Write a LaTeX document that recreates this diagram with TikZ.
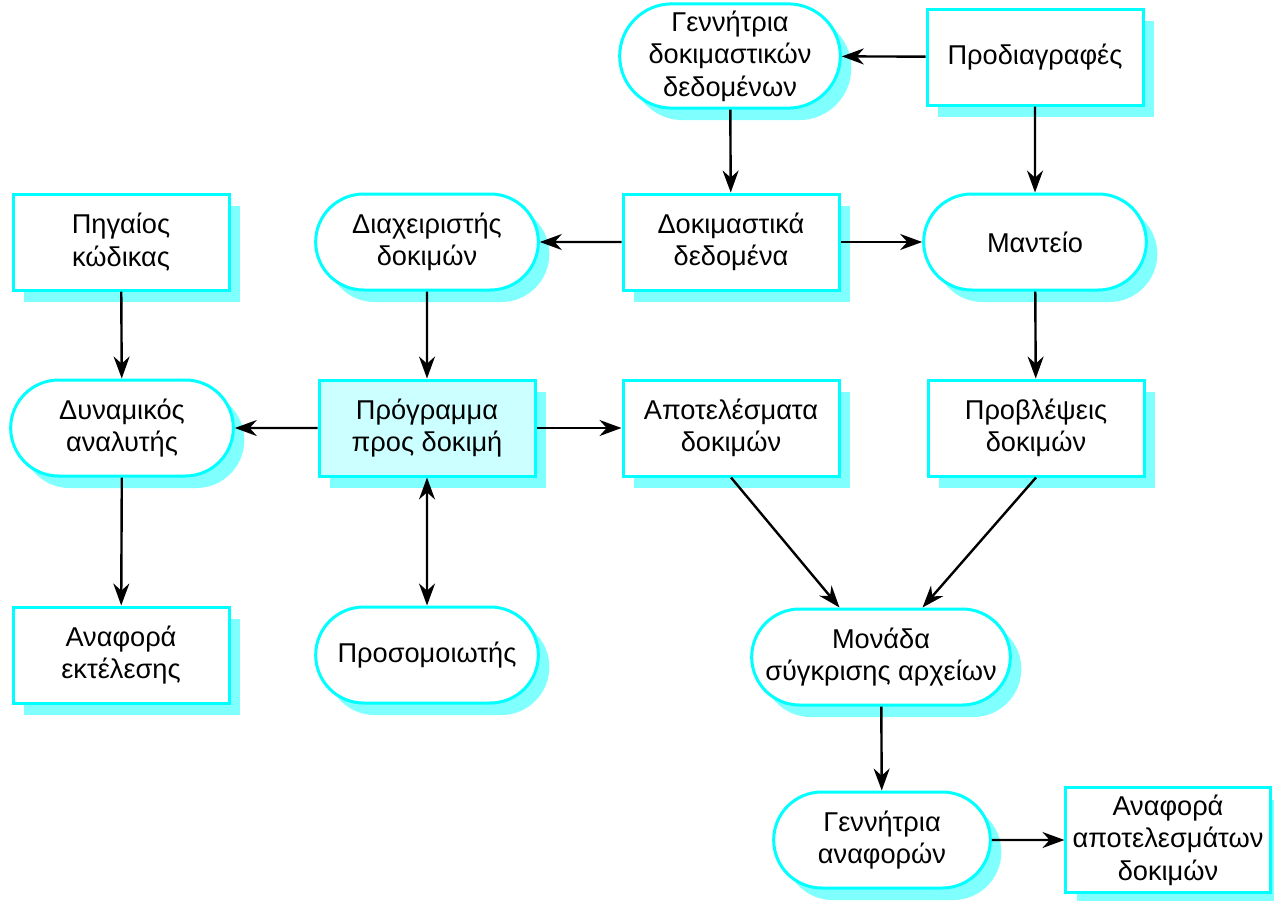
\documentclass[tikz,border=0pt]{standalone}
\usepackage{fontspec}
\setmainfont{Liberation Sans}
\usepackage{tikz}
\usetikzlibrary{shapes,shadows,arrows.meta}
\definecolor{edgecyan}{RGB}{0,255,255}
\definecolor{shadecyan}{RGB}{128,255,255}
\definecolor{fillcyan}{RGB}{204,255,255}
\tikzset{box/.style={rectangle,draw=edgecyan,fill=white,line width=1.5pt,minimum width=108pt,minimum height=48pt,align=center,font=\fontsize{13.6pt}{16.3pt}\selectfont,drop shadow={shadow xshift=5.5pt,shadow yshift=-6pt,fill=shadecyan,opacity=1}},
         pill/.style={rounded rectangle,draw=edgecyan,fill=white,line width=1.5pt,minimum width=118pt,minimum height=48pt,align=center,font=\fontsize{13.6pt}{16.3pt}\selectfont,drop shadow={shadow xshift=5.5pt,shadow yshift=-6pt,fill=shadecyan,opacity=1}}}

\begin{document}
\begin{tikzpicture}[x=0.5pt,y=-0.5pt,>={Stealth[length=11pt,width=8pt]},line width=1.2pt]
    \useasboundingbox (0,0) rectangle (1274,900);
    \node[pill,minimum width=117pt] (gen) at (730,56) {Γεννήτρια\\δοκιμαστικών\\δεδομένων};
    \node[box] (spec) at (1035,57) {Προδιαγραφές};
    \node[box] (src) at (121,242) {Πηγαίος\\κώδικας};
    \node[pill] (mgr) at (427,242) {Διαχειριστής\\δοκιμών};
    \node[box] (data) at (731,242) {Δοκιμαστικά\\δεδομένα};
    \node[pill] (orc) at (1035,242) {Μαντείο};
    \node[pill] (dyn) at (122,428) {Δυναμικός\\αναλυτής};
    \node[box,fill=fillcyan] (prog) at (427,428) {Πρόγραμμα\\προς δοκιμή};
    \node[box] (res) at (731,428) {Αποτελέσματα\\δοκιμών};
    \node[box] (pred) at (1036,428) {Προβλέψεις\\δοκιμών};
    \node[box] (exe) at (121,655) {Αναφορά\\εκτέλεσης};
    \node[pill] (sim) at (427,655) {Προσομοιωτής};
    \node[pill,minimum width=136pt] (cmp) at (881,657) {Μονάδα\\σύγκρισης αρχείων};
    \node[pill,minimum width=115pt] (rep) at (882,840) {Γεννήτρια\\αναφορών};
    \node[box,minimum width=100pt] (out) at (1168,840) {Αναφορά\\αποτελεσμάτων\\δοκιμών};

    \draw [->] (spec) to (gen);
    \draw [->] (gen) to (data);
    \draw [->] (spec) to (orc);
    \draw [->] (data) to (mgr);
    \draw [->] (data) to (orc);
    \draw [->] (src) to (dyn);
    \draw [->] (mgr) to (prog);
    \draw [->] (prog) to (dyn);
    \draw [->] (prog) to (res);
    \draw [->] (orc) to (pred);
    \draw [->] (dyn) to (exe);
    \draw [<->] (prog) to (sim);
    \draw [->] (res.south) to (cmp.130);
    \draw [->] (pred.south) to (cmp.50);
    \draw [->] (cmp) to (rep);
    \draw [->] (rep) to (out);
\end{tikzpicture}
\end{document}
